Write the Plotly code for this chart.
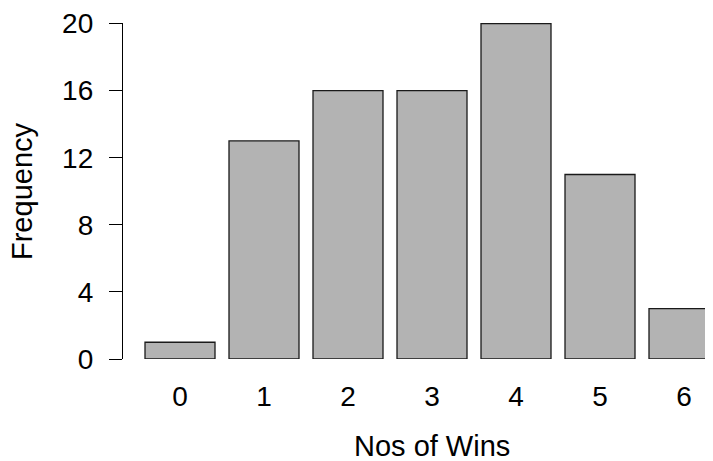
import plotly.graph_objects as go

wins = [0, 1, 2, 3, 4, 5, 6]
frequency = [1, 13, 16, 16, 20, 11, 3]
y_ticks = [0, 4, 8, 12, 16, 20]

FONT = "Liberation Sans, Arial, sans-serif"

# page body has an 8px margin; figure is sized to fill the rest of the window
fig = go.Figure()
fig.add_trace(go.Bar(
    x=wins, y=frequency, width=70/84,
    marker=dict(color="#b3b3b3", line=dict(color="#1a1a1a", width=1.3)),
))

fig.update_layout(
    width=705, height=453,
    margin=dict(l=115, r=0, t=12, b=102),
    paper_bgcolor="white", plot_bgcolor="white",
    showlegend=False,
    font=dict(family=FONT, size=28, color="black"),
    xaxis=dict(
        range=[(123-180)/84, (713-180)/84],
        tickmode="array", tickvals=wins, ticktext=[str(w) for w in wins],
        showgrid=False, zeroline=False, showline=False,
        ticks="outside", ticklen=12, tickcolor="rgba(0,0,0,0)",
        tickfont=dict(size=28),
    ),
    yaxis=dict(
        range=[0, 20.03],
        tickmode="array", tickvals=y_ticks,
        showgrid=False, zeroline=False,
        showline=True, linecolor="black", linewidth=1.3,
        ticks="outside", ticklen=13, tickcolor="black", tickwidth=1.3,
        ticklabelstandoff=10, ticklabeloverflow="allow",
        tickfont=dict(size=28),
    ),
    annotations=[
        dict(text="Nos of Wins", x=3, xref="x", y=0, yref="paper",
             yshift=-(446-359), showarrow=False, font=dict(size=29),
             xanchor="center", yanchor="middle"),
        dict(text="Frequency", x=0, xref="paper", y=0.5, yref="paper",
             xshift=22-123, showarrow=False, textangle=-90, font=dict(size=29),
             xanchor="center", yanchor="middle"),
    ],
)

fig.write_html("out.html")
